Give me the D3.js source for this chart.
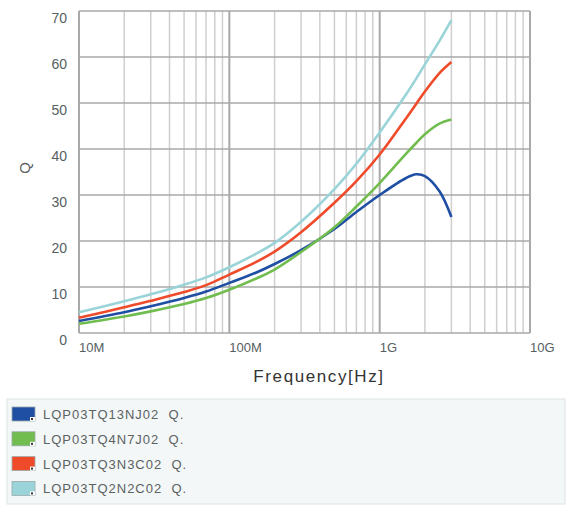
<!DOCTYPE html>
<html>
<head>
<meta charset="utf-8">
<script src="https://cdn.jsdelivr.net/npm/d3@7"></script>
<style>
  body { margin: 0; background: #fff; }
  text { font-family: "Liberation Sans", Arial, sans-serif; }
</style>
</head>
<body>
<div id="chart"></div>
<script>
// frequency points (Hz) shared by all series
const freqs = [1e7, 2e7, 3e7, 5e7, 7e7, 1e8, 1.5e8, 2e8, 3e8, 5e8, 7e8, 1e9, 1.5e9, 1.75e9, 2e9, 2.5e9, 3e9];
const qBlue  = [2.6, 4.5, 5.8, 7.6, 9.0, 10.9, 13.1, 15.0, 18.0, 22.6, 26.3, 30.0, 33.7, 34.5, 34.1, 30.8, 25.2];
const qGreen = [2.0, 3.6, 4.7, 6.3, 7.6, 9.4, 11.8, 13.8, 17.6, 23.0, 27.5, 32.6, 39.0, 41.3, 43.2, 45.5, 46.4];
const qRed   = [3.3, 5.6, 7.0, 8.9, 10.4, 12.7, 15.4, 17.7, 21.9, 28.3, 33.0, 38.8, 46.7, 49.8, 52.5, 56.5, 58.9];
const qCyan  = [4.5, 6.9, 8.4, 10.5, 12.1, 14.3, 17.2, 19.6, 24.2, 31.3, 36.8, 43.6, 51.9, 55.3, 58.4, 63.5, 68.0];

const seriesNames = ["LQP03TQ13NJ02\u00a0\u00a0Q.", "LQP03TQ4N7J02\u00a0\u00a0Q.", "LQP03TQ3N3C02\u00a0\u00a0Q.", "LQP03TQ2N2C02\u00a0\u00a0Q."];
const seriesColors = ["#1f4fa3", "#72bd4f", "#ef4b2b", "#9ad4d8"];

const xTickValues = [1e7, 1e8, 1e9, 1e10];
const xTickLabels = ["10M", "100M", "1G", "10G"];
const yTickValues = [0, 10, 20, 30, 40, 50, 60, 70];

const width = 570;
const height = 506;
const plot = { left: 79, right: 530, top: 11, bottom: 333 };

const svg = d3.select("#chart")
  .append("svg")
  .attr("width", width)
  .attr("height", height);

const xScale = d3.scaleLog().domain([1e7, 1e10]).range([plot.left, plot.right]);
const yScale = d3.scaleLinear().domain([0, 70]).range([plot.bottom, plot.top]);

// minor vertical grid (2..9 in each decade)
const minorTicks = [];
[1e7, 1e8, 1e9].forEach(function(dec) {
  for (let k = 2; k <= 9; k++) minorTicks.push(dec * k);
});

const grid = svg.append("g").attr("class", "grid");

grid.selectAll("line.minor")
  .data(minorTicks)
  .enter()
  .append("line")
  .attr("class", "minor")
  .attr("x1", d => xScale(d))
  .attr("x2", d => xScale(d))
  .attr("y1", plot.top)
  .attr("y2", plot.bottom)
  .attr("stroke", "#cfcfcf")
  .attr("stroke-width", 1.5);

grid.selectAll("line.hgrid")
  .data(yTickValues)
  .enter()
  .append("line")
  .attr("class", "hgrid")
  .attr("x1", plot.left)
  .attr("x2", plot.right)
  .attr("y1", d => yScale(d))
  .attr("y2", d => yScale(d))
  .attr("stroke", "#a9a9a9")
  .attr("stroke-width", 1.5);

grid.selectAll("line.major")
  .data(xTickValues)
  .enter()
  .append("line")
  .attr("class", "major")
  .attr("x1", d => xScale(d))
  .attr("x2", d => xScale(d))
  .attr("y1", plot.top)
  .attr("y2", plot.bottom)
  .attr("stroke", "#a9a9a9")
  .attr("stroke-width", 2);

// y labels (sit a bit below their grid line, like the original)
svg.append("g").selectAll("text")
  .data(yTickValues)
  .enter()
  .append("text")
  .attr("x", 67)
  .attr("y", d => yScale(d) + 12)
  .attr("text-anchor", "end")
  .attr("font-size", 14)
  .attr("fill", "#56605f")
  .text(d => d);

// x labels
svg.append("g").selectAll("text")
  .data(xTickValues)
  .enter()
  .append("text")
  .attr("x", d => xScale(d))
  .attr("y", 352)
  .attr("font-size", 13)
  .attr("fill", "#56605f")
  .text((d, i) => xTickLabels[i]);

svg.append("text")
  .attr("transform", "translate(30,168) rotate(-90)")
  .attr("text-anchor", "middle")
  .attr("font-size", 15)
  .attr("fill", "#56605f")
  .text("Q");

svg.append("text")
  .attr("x", 319)
  .attr("y", 382)
  .attr("text-anchor", "middle")
  .attr("font-size", 17)
  .attr("letter-spacing", 1.6)
  .attr("fill", "#333")
  .text("Frequency[Hz]");

// curves
const allSeries = [qBlue, qGreen, qRed, qCyan];

const lineGenerator = d3.line()
  .x((d, i) => xScale(freqs[i]))
  .y(d => yScale(d))
  .curve(d3.curveCatmullRom.alpha(0.5));

svg.append("g").selectAll("path")
  .data(allSeries)
  .enter()
  .append("path")
  .attr("d", d => lineGenerator(d))
  .attr("fill", "none")
  .attr("stroke", (d, i) => seriesColors[i])
  .attr("stroke-width", 2.6)
  .attr("stroke-linejoin", "round");

// legend
const legend = svg.append("g").attr("class", "legend");

legend.append("rect")
  .attr("x", 7)
  .attr("y", 399)
  .attr("width", 558)
  .attr("height", 105)
  .attr("fill", "#f4f7f7")
  .attr("stroke", "#dde3e3");

const rows = legend.selectAll("g.row")
  .data(seriesNames)
  .enter()
  .append("g")
  .attr("class", "row")
  .attr("transform", (d, i) => "translate(0," + (414 + i * 24.8) + ")");

rows.append("rect")
  .attr("x", 12)
  .attr("y", -7)
  .attr("width", 23)
  .attr("height", 14)
  .attr("fill", (d, i) => seriesColors[i])
  .attr("stroke", "#9aa")
  .attr("stroke-width", 0.8);

rows.append("rect")
  .attr("x", 30)
  .attr("y", 3)
  .attr("width", 5)
  .attr("height", 4)
  .attr("fill", "#fff");

rows.append("rect")
  .attr("x", 31)
  .attr("y", 4)
  .attr("width", 2)
  .attr("height", 2)
  .attr("fill", "#333");

rows.append("text")
  .attr("x", 43)
  .attr("y", 5)
  .attr("font-size", 13)
  .attr("letter-spacing", 1)
  .attr("fill", "#5a6262")
  .text(d => d);
</script>
</body>
</html>
